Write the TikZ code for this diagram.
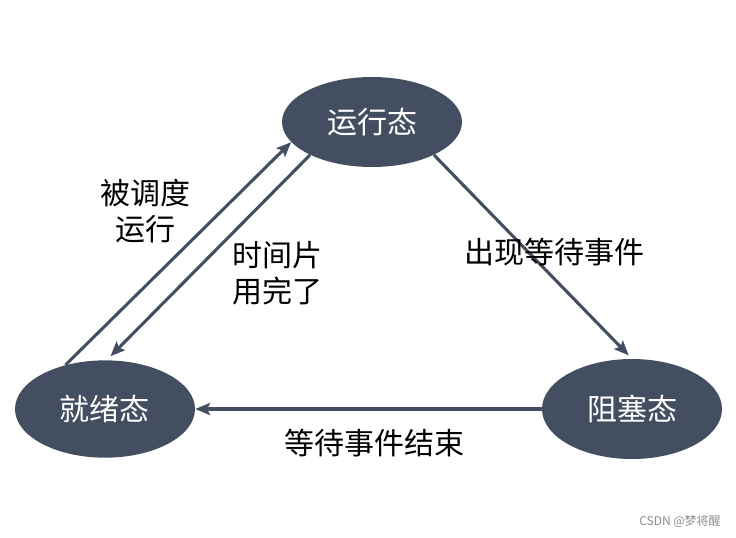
\documentclass[tikz,border=0pt]{standalone}
\usepackage{fontspec}
\setmainfont{Noto Sans CJK SC}
\usetikzlibrary{shapes.geometric,arrows.meta}
\definecolor{st}{HTML}{434E61}
\tikzset{
  state/.style={ellipse,fill=st,draw=none,minimum width=135pt,minimum height=70pt,inner sep=0pt,text=white,font=\fontsize{22.5}{27}\selectfont},
  lbl/.style={align=center,text=black,font=\fontsize{22.5}{27}\selectfont,inner sep=0pt},
  conn/.style={draw=st,line width=2.3pt,-{Stealth[length=11pt,width=9pt,inset=2pt]}}
}
\begin{document}
\begin{tikzpicture}[x=0.75pt,y=-0.75pt]
\useasboundingbox (0,0) rectangle (736,537);
\node[state,minimum height=67.5pt] (run) at (372,122) {运行态};
\node[state,minimum height=73pt] (ready) at (105,409) {就绪态};
\node[state,minimum height=75pt] (block) at (632,409) {阻塞态};
\draw[conn] (ready.132) -- (run.194);
\draw[conn,shorten >=4pt] (run.208) -- (ready.88);
\draw[conn,shorten >=3.5pt] (run.332) -- (block.90);
\draw[conn] (block.west) -- (ready.east);
\node[lbl] (l1) at (145,211) {被调度\\运行};
\node[lbl] (l2) at (277,273) {时间片\\用完了};
\node[lbl] (l3) at (554,252) {出现等待事件};
\node[lbl] (l4) at (374,443) {等待事件结束};
\node[font=\fontsize{9}{11}\selectfont,text=black!45,anchor=east,inner sep=0pt] (wm) at (721,521) {CSDN @梦将醒};
\end{tikzpicture}
\end{document}
